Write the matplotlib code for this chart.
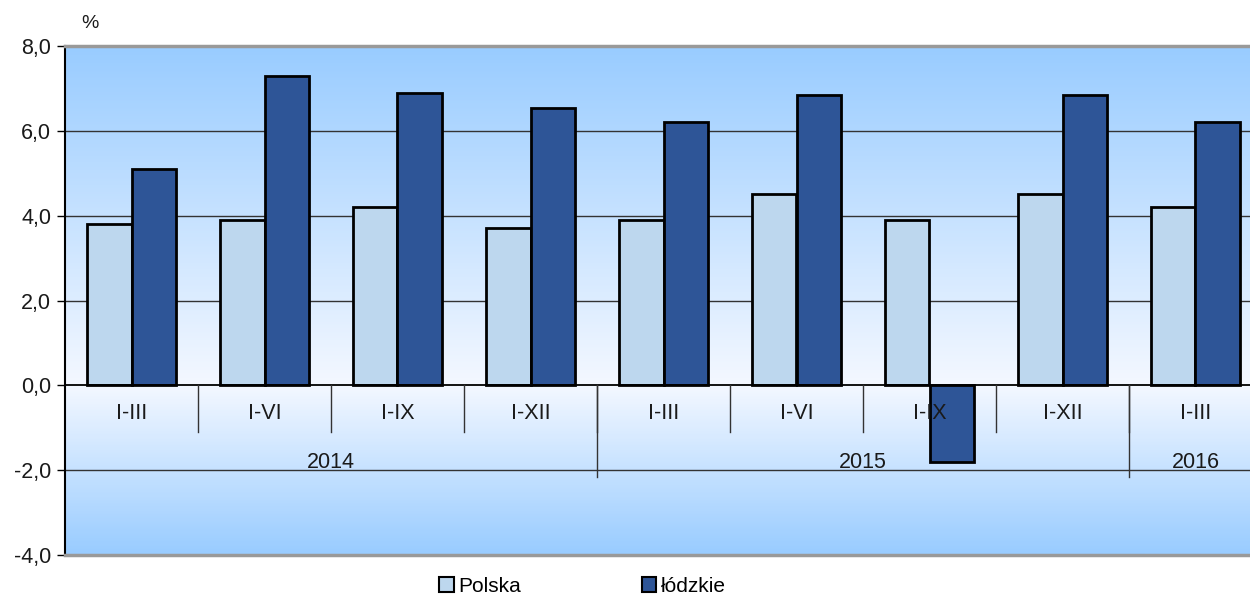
import matplotlib
matplotlib.use('Agg')
import matplotlib.pyplot as plt
import numpy as np
from matplotlib.colors import LinearSegmentedColormap
from matplotlib.patches import Patch

plt.rcParams['font.family'] = ['Liberation Sans', 'DejaVu Sans']

# data
months = ['I-III', 'I-VI', 'I-IX', 'I-XII', 'I-III', 'I-VI', 'I-IX', 'I-XII', 'I-III']
years = ['2014', '2015', '2016']
year_len = [4, 4, 1]
polska = [3.8, 3.9, 4.2, 3.7, 3.9, 4.5, 3.9, 4.5, 4.2]
lodzkie = [5.1, 7.3, 6.9, 6.55, 6.2, 6.85, -1.8, 6.85, 6.2]

c_pl = '#BDD7EE'
c_ld = '#2E5597'

fig = plt.figure(figsize=(12.5, 5.98), dpi=100)
ax = fig.add_axes([65 / 1250, 1 - 555 / 598, 1197 / 1250, 509 / 598])

ymin, ymax = -4, 8
n = len(months)
ax.set_xlim(-0.5, n - 0.5)
ax.set_ylim(ymin, ymax)

# background gradient: blue at top and bottom, almost white near zero
cmap = LinearSegmentedColormap.from_list('bg', [(0, '#99CCFF'), (4 / 12, '#F4F8FF'), (1, '#99CCFF')])
grad = np.linspace(0, 1, 300).reshape(-1, 1)
ax.imshow(grad, extent=(-0.5, n - 0.5, ymin, ymax), origin='lower', aspect='auto',
          cmap=cmap, zorder=0)

# gridlines
for g in [6, 4, 2, -2]:
    ax.axhline(g, color='#333333', lw=1, zorder=1)

x = np.arange(n)
w = 1 / 3
ax.bar(x - w / 2, polska, w, color=c_pl, edgecolor='black', lw=2, zorder=2, label='Polska')
ax.bar(x + w / 2, lodzkie, w, color=c_ld, edgecolor='black', lw=2, zorder=2, label='łódzkie')
ax.axhline(0, color='black', lw=1.3, zorder=3)

# category axis drawn by hand (two levels)
ax.set_xticks([])
for i, m in enumerate(months):
    ax.text(i, -0.66, m, ha='center', va='center', fontsize=15.5, color='#1a1a1a', zorder=4)
for i in range(1, n):
    ax.plot([i - 0.5, i - 0.5], [0, -1.11], color='#333333', lw=1, zorder=4)
start = 0
for yr, ln in zip(years, year_len):
    ax.text(start - 0.5 + ln / 2, -1.82, yr, ha='center', va='center', fontsize=15.5,
            color='#1a1a1a', zorder=4)
    if start > 0:
        ax.plot([start - 0.5, start - 0.5], [0, -2.17], color='#333333', lw=1, zorder=4)
    start += ln

ticks = np.arange(-4, 8.1, 2)
ax.set_yticks(ticks)
ax.set_yticklabels([f'{v:.1f}'.replace('.', ',') for v in ticks], fontsize=15.5,
                   color='#1a1a1a')
ax.tick_params(axis='y', direction='out', length=6, width=1, color='black', pad=4)

ax.spines['left'].set_color('black')
ax.spines['left'].set_linewidth(1.5)
ax.spines['top'].set_color('#999999')
ax.spines['top'].set_linewidth(2.5)
ax.spines['bottom'].set_color('#999999')
ax.spines['bottom'].set_linewidth(2.5)
ax.spines['right'].set_visible(False)

fig.text(90 / 1250, 1 - 24 / 598, '%', fontsize=14, ha='center', va='center', color='#1a1a1a')

handles = [Patch(facecolor=c_pl, edgecolor='black', lw=1.5, label='Polska'),
           Patch(facecolor=c_ld, edgecolor='black', lw=1.5, label='łódzkie')]
fig.legend(handles=handles, loc='center', bbox_to_anchor=(0.466, 1 - 586 / 598), ncol=2,
           frameon=False, fontsize=15, handlelength=0.7, handleheight=0.7,
           handletextpad=0.2, columnspacing=5.8, borderpad=0.1)

fig.savefig('out.png', dpi=100)
